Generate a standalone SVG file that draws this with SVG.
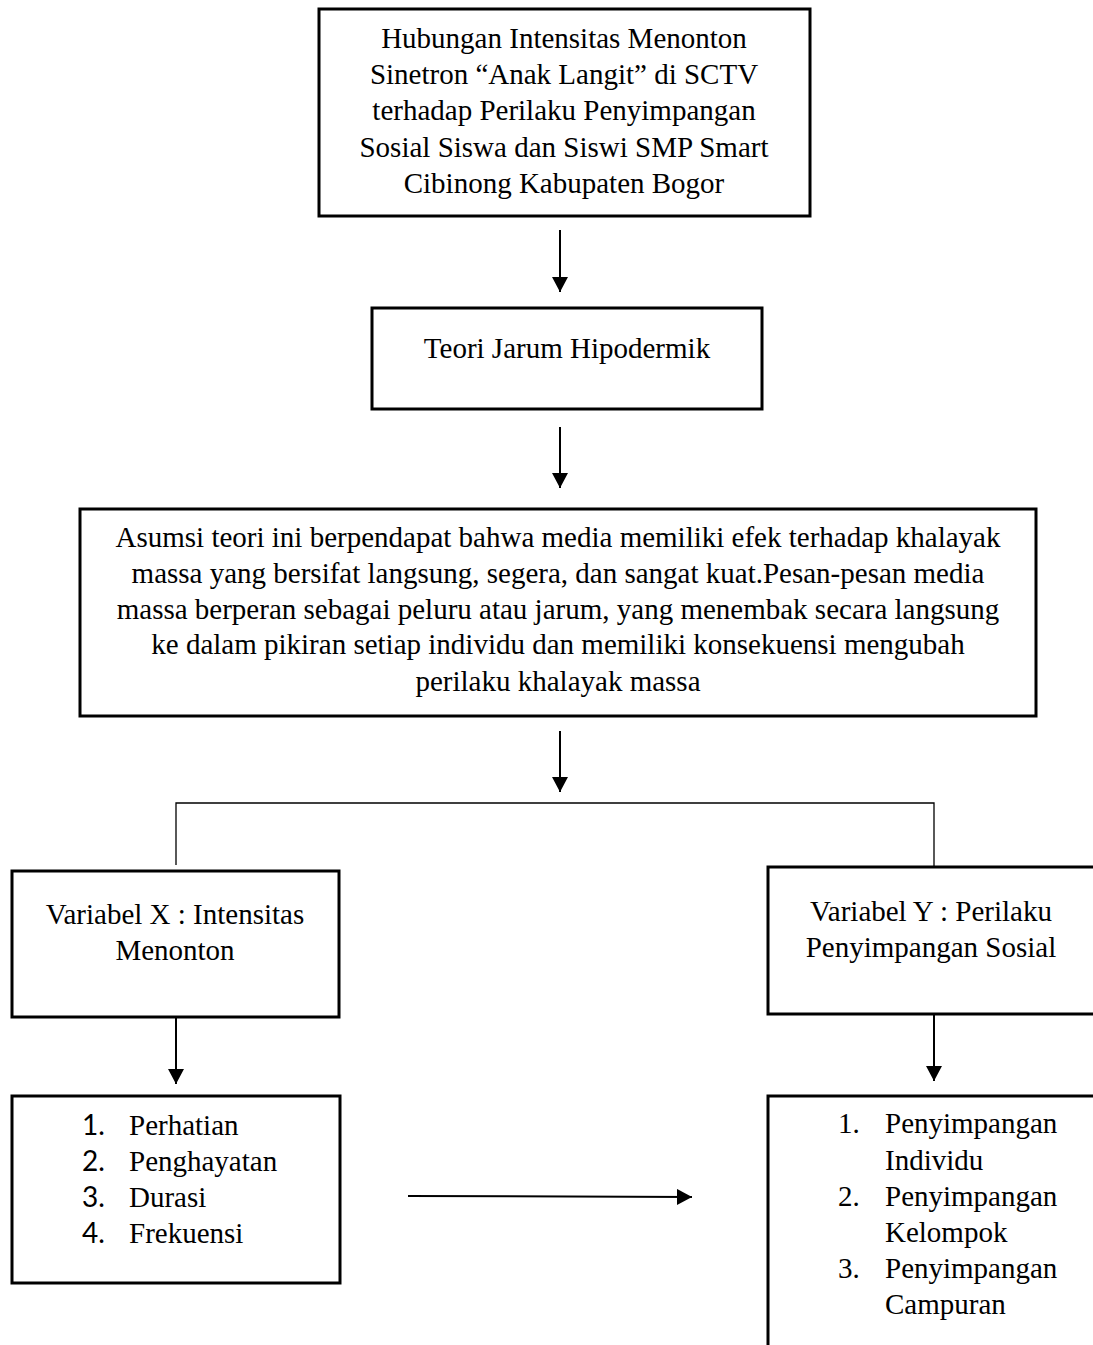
<svg xmlns="http://www.w3.org/2000/svg" width="1093" height="1345" viewBox="0 0 1093 1345">
<style>
.box{fill:#fff;stroke:#000;stroke-width:3}
.t{font-family:"Liberation Serif","Times New Roman",serif;font-size:29px;fill:#000}
.c{text-anchor:middle}
.n{font-family:Lato,"Open Sans","Liberation Sans",sans-serif;font-size:28px;fill:#000}
.ln{fill:none;stroke:#000;stroke-width:2}
.thin{fill:none;stroke:#000;stroke-width:1.3}
</style>
<defs>
<marker id="ah" markerUnits="userSpaceOnUse" markerWidth="16" markerHeight="16" refX="15" refY="8" orient="auto">
<path d="M0,0 L15,8 L0,16 Z" fill="#000"/>
</marker>
</defs>
<rect width="1093" height="1345" fill="#fff"/>
<g id="connectors">
<line class="ln" x1="560" y1="230" x2="560" y2="292" marker-end="url(#ah)"/>
<line class="ln" x1="560" y1="427" x2="560" y2="488" marker-end="url(#ah)"/>
<line class="ln" x1="560" y1="731" x2="560" y2="792" marker-end="url(#ah)"/>
<polyline class="thin" points="176,865 176,803 934,803 934,867"/>
<line class="ln" x1="176" y1="1018" x2="176" y2="1084" marker-end="url(#ah)"/>
<line class="ln" x1="934" y1="1015" x2="934" y2="1081" marker-end="url(#ah)"/>
<line class="ln" x1="408" y1="1196" x2="692" y2="1197" marker-end="url(#ah)"/>
</g>
<g id="judul">
<rect class="box" x="319" y="9" width="491" height="207"/>
<text class="t c" x="564" y="48">Hubungan Intensitas Menonton</text>
<text class="t c" x="564" y="84">Sinetron “Anak Langit” di SCTV</text>
<text class="t c" x="564" y="120">terhadap Perilaku Penyimpangan</text>
<text class="t c" x="564" y="157">Sosial Siswa dan Siswi SMP Smart</text>
<text class="t c" x="564" y="193">Cibinong Kabupaten Bogor</text>
</g>
<g id="teori">
<rect class="box" x="372" y="308" width="390" height="101"/>
<text class="t c" x="567" y="358">Teori Jarum Hipodermik</text>
</g>
<g id="asumsi">
<rect class="box" x="80" y="509" width="956" height="207"/>
<text class="t c" x="558" y="547">Asumsi teori ini berpendapat bahwa media memiliki efek terhadap khalayak</text>
<text class="t c" x="558" y="583">massa yang bersifat langsung, segera, dan sangat kuat.Pesan-pesan media</text>
<text class="t c" x="558" y="619">massa berperan sebagai peluru atau jarum, yang menembak secara langsung</text>
<text class="t c" x="558" y="654">ke dalam pikiran setiap individu dan memiliki konsekuensi mengubah</text>
<text class="t c" x="558" y="691">perilaku khalayak massa</text>
</g>
<g id="varx">
<rect class="box" x="12" y="871" width="327" height="146"/>
<text class="t c" x="175" y="924">Variabel X : Intensitas</text>
<text class="t c" x="175" y="960">Menonton</text>
</g>
<g id="vary">
<rect class="box" x="768" y="867" width="340" height="147"/>
<text class="t c" x="931" y="921">Variabel Y : Perilaku</text>
<text class="t c" x="931" y="957">Penyimpangan Sosial</text>
</g>
<g id="indikator-x">
<rect class="box" x="12" y="1096" width="328" height="187"/>
<text class="n" x="82" y="1135">1.</text>
<text class="t" x="129" y="1135">Perhatian</text>
<text class="n" x="82" y="1171">2.</text>
<text class="t" x="129" y="1171">Penghayatan</text>
<text class="n" x="82" y="1207">3.</text>
<text class="t" x="129" y="1207">Durasi</text>
<text class="n" x="82" y="1243">4.</text>
<text class="t" x="129" y="1243">Frekuensi</text>
</g>
<g id="indikator-y">
<rect class="box" x="768" y="1096" width="340" height="270"/>
<text class="t" x="838" y="1133">1.</text>
<text class="t" x="885" y="1133">Penyimpangan</text>
<text class="t" x="885" y="1170">Individu</text>
<text class="t" x="838" y="1206">2.</text>
<text class="t" x="885" y="1206">Penyimpangan</text>
<text class="t" x="885" y="1242">Kelompok</text>
<text class="t" x="838" y="1278">3.</text>
<text class="t" x="885" y="1278">Penyimpangan</text>
<text class="t" x="885" y="1314">Campuran</text>
</g>
</svg>
